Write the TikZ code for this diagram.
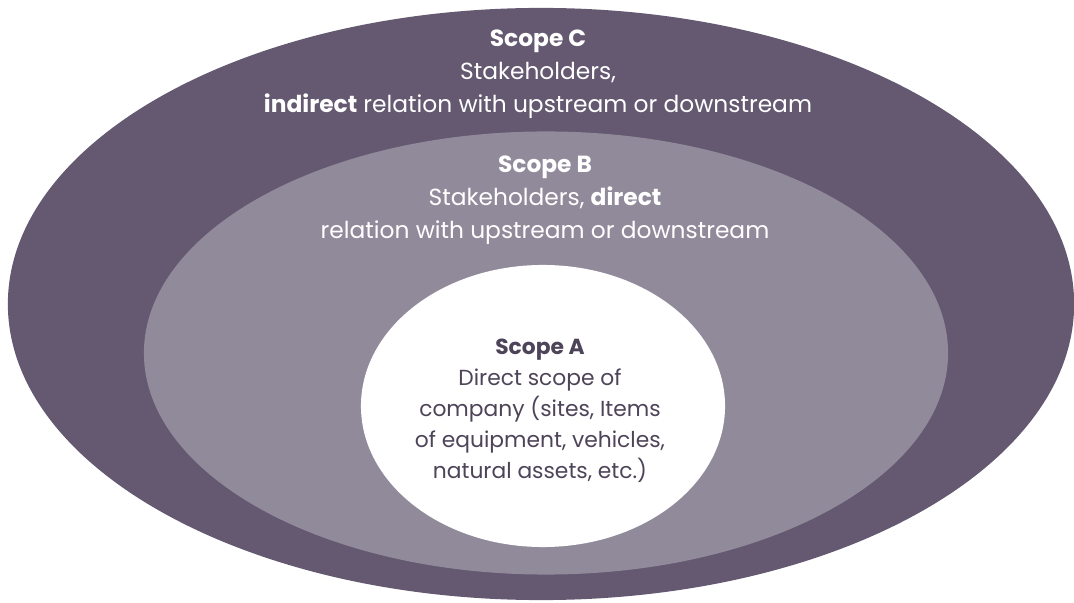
\documentclass[tikz,border=0pt]{standalone}
\usepackage{fontspec}
\setmainfont{Poppins}
\usetikzlibrary{shapes.geometric}

\definecolor{scopedark}{HTML}{645970}
\definecolor{scopemid}{HTML}{918A9B}
\definecolor{scopetext}{HTML}{4E4459}

\tikzset{
  ring/.style={ellipse,inner sep=0pt,draw=none},
  label/.style={align=center,font=\fontsize{16.6}{23.5}\selectfont},
}

\begin{document}
\begin{tikzpicture}[x=0.025cm,y=-0.025cm]
        \useasboundingbox (0,0) rectangle (1074,603);

        % the three scopes
        \node[ring,fill=scopedark,minimum width=26.65cm,minimum height=14.8cm]  (scC) at (541,304) {};
        \node[ring,fill=scopemid,minimum width=20.1cm,minimum height=11.075cm]  (scB) at (546,353) {};
        \node[ring,fill=white,minimum width=9.1cm,minimum height=7.05cm]        (scA) at (543,406) {};

        \node[label,text=white]     (txtC) at (538,74)  {\textbf{Scope C}\\Stakeholders,\\\textbf{indirect} relation with upstream or downstream};
        \node[label,text=white]     (txtB) at (545,200) {\textbf{Scope B}\\Stakeholders, \textbf{direct}\\relation with upstream or downstream};
        \node[label,text=scopetext,font=\fontsize{15.5}{22}\selectfont] (txtA) at (540,411) {\textbf{Scope A}\\Direct scope of\\company (sites, Items\\of equipment, vehicles,\\natural assets, etc.)};
      \end{tikzpicture}
\end{document}
